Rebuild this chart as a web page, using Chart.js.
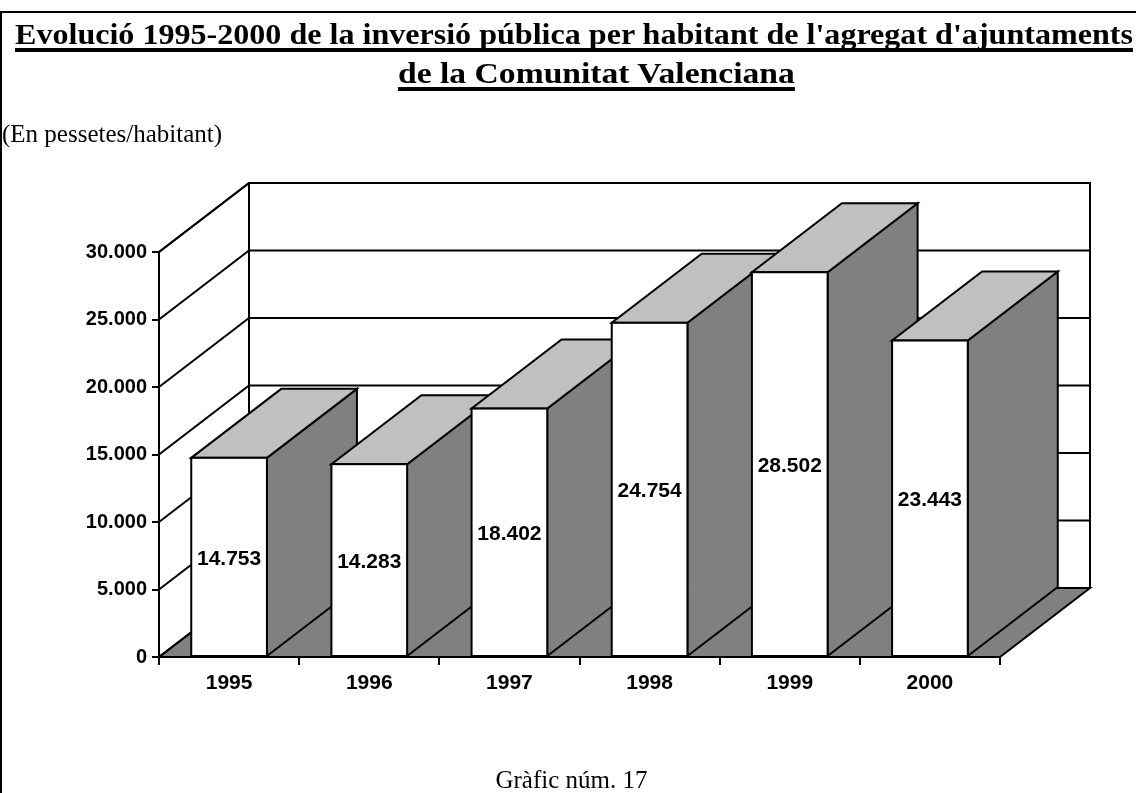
<!DOCTYPE html>
<html><head><meta charset="utf-8">
<script src="https://cdn.jsdelivr.net/npm/chart.js@4/dist/chart.umd.min.js"></script>
<style>
html,body{margin:0;padding:0;background:#fff;}
body{width:1136px;height:793px;position:relative;overflow:hidden;}
#frame{position:absolute;left:0;top:11px;width:1150px;height:800px;border-top:2px solid #000;border-left:2px solid #000;box-sizing:border-box;}
.t{position:absolute;white-space:nowrap;font-family:"Liberation Serif","Times New Roman",serif;color:#000;line-height:1;}
.title{font-weight:bold;font-size:29px;text-decoration:underline;text-decoration-thickness:4px;text-underline-offset:4px;text-decoration-skip-ink:none;transform-origin:0 0;}
.sub{font-size:25px;}
#c{position:absolute;left:0;top:0;width:1136px;height:793px;}
</style></head>
<body>
<div id="frame"></div>
<canvas id="c" width="1136" height="793"></canvas>
<div class="t title" style="left:15px;top:20px;transform:scaleX(1.106)">Evolució 1995-2000 de la inversió pública per habitant de l'agregat d'ajuntaments</div>
<div class="t title" style="left:398px;top:59px;transform:scaleX(1.159)">de la Comunitat Valenciana</div>
<div class="t sub" style="left:2px;top:121px">(En pessetes/habitant)</div>
<div class="t sub" style="left:0;width:1143px;text-align:center;top:767px">Gràfic núm. 17</div>
<script>
const categories = ['1995','1996','1997','1998','1999','2000'];
const values = [14753, 14283, 18402, 24754, 28502, 23443];
const yTickValues = [0, 5000, 10000, 15000, 20000, 25000, 30000];
const yTickLabels = ['0','5.000','10.000','15.000','20.000','25.000','30.000'];

const DX = 90, DY = 69;
const SIDE = '#808080', TOP = '#C0C0C0';
const fmt = v => String(v).replace(/\B(?=(\d{3})+(?!\d))/g, '.');

const bars3d = {
  id: 'bars3d',
  beforeDatasetsDraw(chart) {
    const ctx = chart.ctx, ys = chart.scales.y, ca = chart.chartArea;
    const L = ca.left, R = ca.right;
    const B = ys.getPixelForValue(yTickValues[0]);
    const T = ys.getPixelForValue(yTickValues[yTickValues.length - 1]);
    ctx.save();
    ctx.lineWidth = 2; ctx.strokeStyle = '#000'; ctx.lineJoin = 'miter';
    ctx.fillStyle = SIDE;
    ctx.beginPath();
    ctx.moveTo(L, B); ctx.lineTo(R, B); ctx.lineTo(R + DX, B - DY); ctx.lineTo(L + DX, B - DY); ctx.closePath();
    ctx.fill(); ctx.stroke();
    ctx.beginPath();
    ctx.moveTo(L + DX, B - DY); ctx.lineTo(L + DX, T - DY); ctx.lineTo(R + DX, T - DY); ctx.lineTo(R + DX, B - DY);
    ctx.moveTo(L, T); ctx.lineTo(L + DX, T - DY);
    ctx.stroke();
    yTickValues.forEach(v => {
      const y = ys.getPixelForValue(v);
      ctx.beginPath();
      ctx.moveTo(L, y); ctx.lineTo(L + DX, y - DY); ctx.lineTo(R + DX, y - DY);
      ctx.stroke();
    });
    const meta = chart.getDatasetMeta(0);
    meta.data.forEach(bar => {
      const l = bar.x - bar.width / 2, r = bar.x + bar.width / 2, t = bar.y, b = bar.base;
      ctx.fillStyle = SIDE;
      ctx.beginPath();
      ctx.moveTo(r, b); ctx.lineTo(r + DX, b - DY); ctx.lineTo(r + DX, t - DY); ctx.lineTo(r, t); ctx.closePath();
      ctx.fill(); ctx.stroke();
      ctx.fillStyle = TOP;
      ctx.beginPath();
      ctx.moveTo(l, t); ctx.lineTo(r, t); ctx.lineTo(r + DX, t - DY); ctx.lineTo(l + DX, t - DY); ctx.closePath();
      ctx.fill(); ctx.stroke();
    });
    ctx.restore();
  },
  afterDatasetsDraw(chart) {
    const ctx = chart.ctx;
    const meta = chart.getDatasetMeta(0);
    ctx.save();
    ctx.lineWidth = 2; ctx.strokeStyle = '#000';
    meta.data.forEach((bar, i) => {
      const l = bar.x - bar.width / 2, t = bar.y, b = bar.base;
      ctx.strokeRect(l, t, bar.width, b - t);
      ctx.fillStyle = '#000';
      ctx.font = 'bold 21px "Liberation Sans", Arial, sans-serif';
      ctx.textAlign = 'center'; ctx.textBaseline = 'middle';
      ctx.fillText(fmt(values[i]), bar.x, (t + b) / 2 + 2);
    });
    ctx.restore();
  }
};

new Chart(document.getElementById('c'), {
  type: 'bar',
  data: {
    labels: categories,
    datasets: [{
      data: values,
      backgroundColor: '#ffffff',
      borderWidth: 0,
      barPercentage: 0.54,
      categoryPercentage: 1.0
    }]
  },
  options: {
    responsive: false,
    animation: false,
    devicePixelRatio: 1,
    layout: { padding: { top: 252, right: 136, bottom: 76, left: 0 } },
    plugins: { legend: { display: false }, tooltip: { enabled: false }, title: { display: false } },
    scales: {
      x: {
        grid: { display: true, drawOnChartArea: false, drawTicks: true, tickLength: 8, color: '#000', lineWidth: 2, offset: true },
        border: { display: true, color: '#000', width: 2 },
        ticks: { color: '#000', padding: 6, font: { family: '"Liberation Sans", Arial, sans-serif', weight: 'bold', size: 21 } },
        afterFit(s) { s.height = 60; }
      },
      y: {
        min: 0, max: 30000,
        afterBuildTicks(s) { s.ticks = yTickValues.map(v => ({ value: v })); },
        grid: { display: true, drawOnChartArea: false, drawTicks: true, tickLength: 7, color: '#000', lineWidth: 2 },
        border: { display: true, color: '#000', width: 2 },
        ticks: { color: '#000', padding: 5, autoSkip: false, callback: (v, i) => yTickLabels[i], font: { family: '"Liberation Sans", Arial, sans-serif', weight: 'bold', size: 20 } },
        afterFit(s) { s.width = 159; }
      }
    }
  },
  plugins: [bars3d]
});
</script>
</body></html>
